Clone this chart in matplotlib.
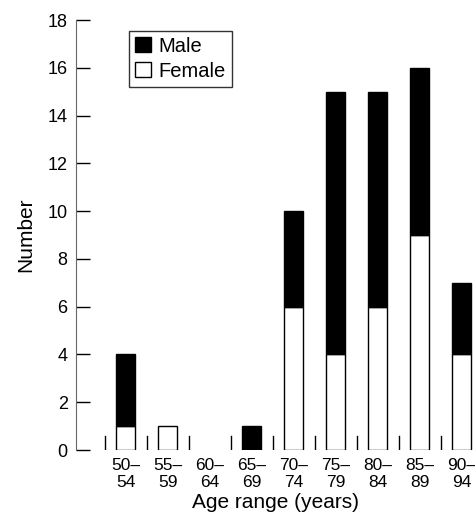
import numpy as np
import matplotlib
matplotlib.use("Agg")
import matplotlib.pyplot as plt
from matplotlib.patches import Patch

plt.rcParams["font.family"] = ["Liberation Sans", "DejaVu Sans"]

age_ranges = ["50–\n54", "55–\n59", "60–\n64", "65–\n69", "70–\n74",
              "75–\n79", "80–\n84", "85–\n89", "90–\n94"]
female = [1, 1, 0, 0, 6, 4, 6, 9, 4]
male = [3, 0, 0, 1, 4, 11, 9, 7, 3]

x = np.arange(len(age_ranges))

fig = plt.figure(figsize=(4.75, 5.14), dpi=100)
ax = fig.add_axes([0.16, 0.1245, 0.84, 0.8365])

# no outline for empty segments
f_lw = [1 if v > 0 else 0 for v in female]
m_lw = [1 if v > 0 else 0 for v in male]
ax.bar(x, female, width=0.45, color="white", edgecolor="black", linewidth=f_lw)
ax.bar(x, male, width=0.45, bottom=female, color="black", edgecolor="black", linewidth=m_lw)

# little separators between the groups
for b in np.arange(-0.5, len(age_ranges) - 1, 1.0):
    ax.plot([b, b], [0, 0.6], color="black", linewidth=1)

ax.set_xlim(-1.18, 8.32)
ax.set_ylim(0, 18)
ax.set_yticks(np.arange(0, 19, 2))
ax.tick_params(axis="y", direction="in", length=10, width=1, labelsize=13, pad=6)
ax.set_xticks(x)
ax.set_xticklabels(age_ranges, fontsize=12.5, linespacing=1.15)
ax.tick_params(axis="x", length=0, pad=6)

for s in ["top", "right", "bottom"]:
    ax.spines[s].set_visible(False)
ax.spines["left"].set_color("#666666")

ax.set_ylabel("Number", fontsize=15, labelpad=9)
ax.set_xlabel("Age range (years)", fontsize=15, labelpad=2)

handles = [Patch(facecolor="black", edgecolor="black", label="Male"),
           Patch(facecolor="white", edgecolor="black", label="Female")]
leg = ax.legend(handles=handles, loc="upper left", bbox_to_anchor=(0.133, 0.975),
                fontsize=14.5, frameon=True, fancybox=False, edgecolor="black",
                handlelength=0.8, handleheight=0.75, handletextpad=0.35,
                borderpad=0.3, labelspacing=0.3, borderaxespad=0)
leg.get_frame().set_linewidth(1)

fig.savefig("out.png", dpi=100)
